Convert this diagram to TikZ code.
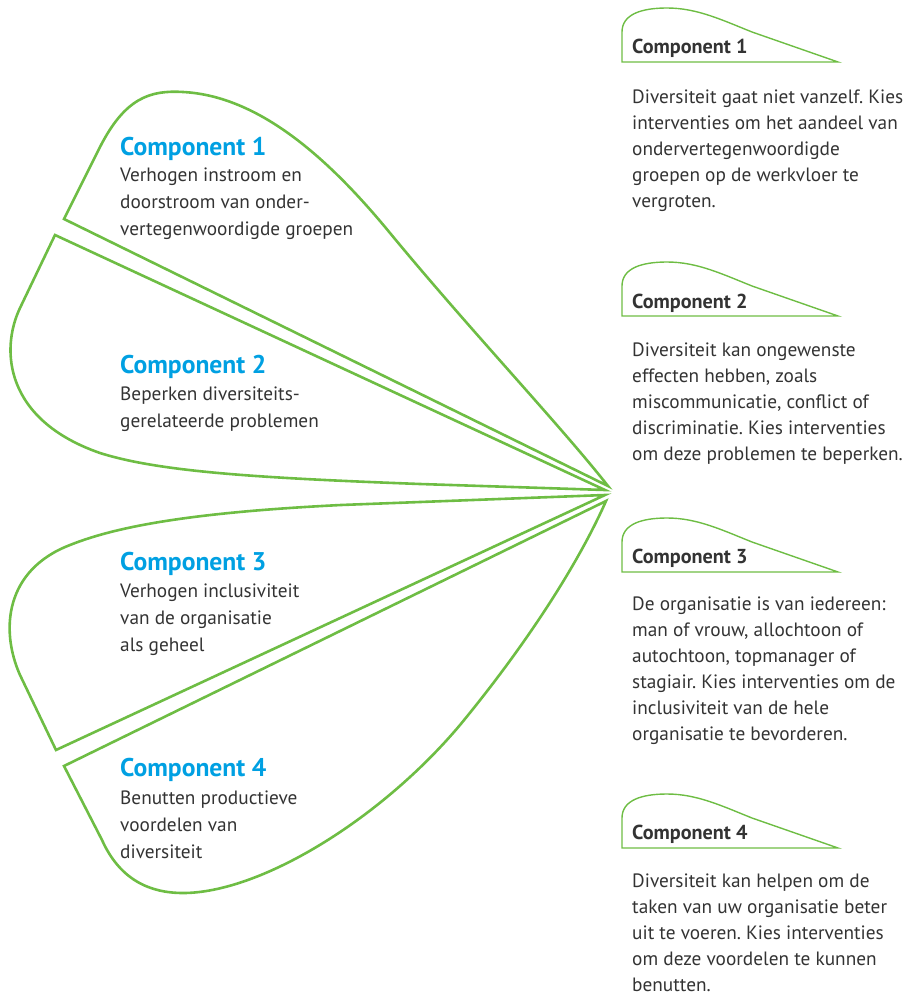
\documentclass[tikz,border=0pt]{standalone}
\usepackage{fontspec}
\setmainfont{PT Sans}
\frenchspacing
\definecolor{leaf}{RGB}{110,189,68}
\definecolor{sky}{RGB}{0,160,226}
\definecolor{ink}{RGB}{51,51,51}
% tab above each explanation, #1 = left x, #2 = bottom y
\newcommand{\tabshape}[2]{\draw[tabline, shift={(#1,#2)}] (216,0) -- (0,0) -- (0,-30) .. controls (0,-48) and (20,-54) .. (45,-54) .. controls (75,-54) and (100,-42) .. (130,-30) -- cycle;}

\begin{document}
\begin{tikzpicture}[x=1pt,y=-1pt,
    petal/.style={draw=leaf, line width=2.6pt},
    tabline/.style={draw=leaf, line width=1.4pt},
    ltitle/.style={anchor=base west, inner sep=0pt, text=sky, font=\fontsize{25.6}{27}\selectfont\bfseries},
    ltext/.style={anchor=north west, inner sep=0pt, text=ink, align=left, font=\fontsize{19.3}{27}\selectfont},
    rtitle/.style={anchor=base west, inner sep=0pt, text=ink, font=\fontsize{20.2}{26}\selectfont\bfseries},
    rtext/.style={anchor=north west, inner sep=0pt, text=ink, align=left, font=\fontsize{19.3}{26}\selectfont}]
    \useasboundingbox (0,0) rectangle (906,995);

    % Petals
    \draw[petal] (608,486) -- (64,219) -- (100,147) .. controls (125,98) and (150,90) .. (183,92) .. controls (260,96) and (330,160) .. (390,233) .. controls (470,330) and (560,425) .. cycle;
    \draw[petal] (605,490) -- (55,235) -- (20,308) .. controls (0,350) and (5,420) .. (100,453) .. controls (160,472) and (260,478) .. (420,484) -- cycle;
    \draw[petal] (605,495) -- (56,750) -- (20,675) .. controls (0,630) and (5,570) .. (70,545) .. controls (120,525) and (200,512) .. (341,505) -- cycle;
    \draw[petal] (606,501) -- (64,766) -- (102,840) .. controls (120,880) and (150,893) .. (183,893) .. controls (260,893) and (380,820) .. (460,725) .. controls (530,640) and (580,560) .. cycle;

    % Left texts
    \node[ltitle] (title-1) at (120,156) {Component 1};
    \node[ltext] (text-1) at (120,168) {Verhogen instroom en\\doorstroom van onder-\\vertegenwoordigde groepen};
    \node[ltitle] (title-2) at (120,373) {Component 2};
    \node[ltext] (text-2) at (120,386.5) {Beperken diversiteits-\\gerelateerde problemen};
    \node[ltitle] (title-3) at (120,570.5) {Component 3};
    \node[ltext] (text-3) at (120,583.5) {Verhogen inclusiviteit\\van de organisatie\\als geheel};
    \node[ltitle] (title-4) at (120,776) {Component 4};
    \node[ltext] (text-4) at (120,790.5) {Benutten productieve\\voordelen van\\diversiteit};

    % Right column
    \tabshape{622}{62}
    \node[rtitle] (rtitle-1) at (632,54) {Component 1};
    \node[rtext] (rtext-1) at (632,89.5) {Diversiteit gaat niet vanzelf. Kies\\interventies om het aandeel van\\ondervertegenwoordigde\\groepen op de werkvloer te\\vergroten.};
    \tabshape{622}{316}
    \node[rtitle] (rtitle-2) at (632,308) {Component 2};
    \node[rtext] (rtext-2) at (632,342.5) {Diversiteit kan ongewenste\\effecten hebben, zoals\\miscommunicatie, conflict of\\discriminatie. Kies interventies\\om deze problemen te beperken.};
    \tabshape{622}{572}
    \node[rtitle] (rtitle-3) at (632,563) {Component 3};
    \node[rtext] (rtext-3) at (632,596.5) {De organisatie is van iedereen:\\man of vrouw, allochtoon of\\autochtoon, topmanager of\\stagiair. Kies interventies om de\\inclusiviteit van de hele\\organisatie te bevorderen.};
    \tabshape{622}{848}
    \node[rtitle] (rtitle-4) at (632,839) {Component 4};
    \node[rtext] (rtext-4) at (632,873.5) {Diversiteit kan helpen om de\\taken van uw organisatie beter\\uit te voeren. Kies interventies\\om deze voordelen te kunnen\\benutten.};

\end{tikzpicture}
\end{document}
